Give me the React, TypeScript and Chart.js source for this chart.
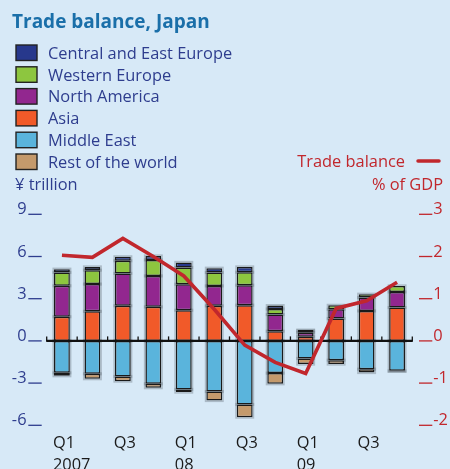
import React, { useEffect, useRef } from "react";
import { Chart, registerables } from "chart.js";

Chart.register(...registerables);

// ---- data ----
const quarters = [
  "2007 Q1", "2007 Q2", "2007 Q3", "2007 Q4",
  "2008 Q1", "2008 Q2", "2008 Q3", "2008 Q4",
  "2009 Q1", "2009 Q2", "2009 Q3", "2009 Q4",
];
const quarterLabels = ["Q1", "", "Q3", "", "Q1", "", "Q3", "", "Q1", "", "Q3", ""];
const yearLabels = ["2007", "", "", "", "08", "", "", "", "09", "", "", ""];

const centralEastEurope = [0.23, 0.23, 0.28, 0.28, 0.36, 0.31, 0.38, 0.24, 0.06, 0, 0, 0];
const westernEurope = [0.95, 0.99, 0.9, 1.14, 1.19, 0.95, 0.92, 0.4, 0.13, 0.28, 0.24, 0.43];
const northAmerica = [2.2, 1.94, 2.3, 2.2, 1.85, 1.42, 1.42, 1.18, 0.28, 0.66, 0.95, 1.11];
const asia = [1.72, 2.1, 2.5, 2.42, 2.18, 2.49, 2.54, 0.69, 0.3, 1.59, 2.13, 2.37];
const middleEast = [-2.27, -2.34, -2.53, -3.05, -3.45, -3.6, -4.52, -2.29, -1.25, -1.37, -2.01, -2.13];
const restOfWorld = [-0.21, -0.35, -0.33, -0.28, -0.19, -0.64, -0.9, -0.76, -0.4, -0.28, -0.24, -0.04];
const tradeBalance = [2.03, 1.98, 2.43, 2.0, 1.54, 0.75, -0.1, -0.51, -0.77, 0.77, 0.95, 1.39];

const leftTicks = [9, 6, 3, 0, -3, -6];
const rightTicks = [3, 2, 1, 0, -1, -2];

const seriesNames = [
  "Central and East Europe",
  "Western Europe",
  "North America",
  "Asia",
  "Middle East",
  "Rest of the world",
];
const seriesColors = ["#27388c", "#8dc63f", "#92278f", "#f15a29", "#5ab4dc", "#c49a6c"];
const seriesData = [centralEastEurope, westernEurope, northAmerica, asia, middleEast, restOfWorld];

// ---- styles ----
const BG = "#d7e9f7";
const BLUE_TEXT = "#2e3d8e";
const TITLE_COLOR = "#1a6fa9";
const RED = "#c1272d";
const FONT = "'Open Sans', 'Noto Sans', sans-serif";

export default function App() {
  const canvasRef = useRef<HTMLCanvasElement | null>(null);

  useEffect(() => {
    document.body.style.margin = "0";
    document.body.style.background = BG;
    const canvas = canvasRef.current;
    if (!canvas) return;

    const decorPlugin = {
      id: "decor",
      beforeDraw(chart: any) {
        const { ctx } = chart;
        ctx.save();
        ctx.fillStyle = BG;
        ctx.fillRect(0, 0, chart.width, chart.height);
        ctx.restore();
      },
      beforeDatasetsDraw(chart: any) {
        // soft grey halo behind the bars
        const { ctx } = chart;
        ctx.save();
        ctx.strokeStyle = "rgba(90,100,110,0.35)";
        ctx.lineWidth = 1.5;
        for (let d = 0; d < 6; d++) {
          const meta = chart.getDatasetMeta(d);
          meta.data.forEach((bar: any) => {
            const { x, y, base, width } = bar.getProps(["x", "y", "base", "width"], true);
            const top = Math.min(y, base);
            const h = Math.abs(base - y);
            if (h < 0.5) return;
            ctx.strokeRect(x - width / 2 - 0.8, top - 0.8, width + 1.6, h + 1.6);
          });
        }
        ctx.restore();
      },
      beforeDatasetDraw(chart: any, args: any) {
        // draw zero axis just before the line dataset
        if (args.index !== 6) return;
        const { ctx } = chart;
        const x = chart.scales.x;
        const y = chart.scales.y;
        const y0 = y.getPixelForValue(0);
        ctx.save();
        ctx.strokeStyle = "#111";
        ctx.lineWidth = 2.2;
        ctx.beginPath();
        ctx.moveTo(x.left - 0.5, y0);
        ctx.lineTo(x.right + 0.5, y0);
        ctx.stroke();
        ctx.lineWidth = 1.3;
        for (let i = 0; i <= quarters.length; i++) {
          const px = x.getPixelForValue(i - 0.5);
          ctx.beginPath();
          ctx.moveTo(px, y0 - 4.5);
          ctx.lineTo(px, y0);
          ctx.stroke();
        }
        ctx.restore();
      },
      afterDraw(chart: any) {
        const { ctx } = chart;
        const x = chart.scales.x;
        const yL = chart.scales.y;
        const yR = chart.scales.y1;
        ctx.save();
        // title
        ctx.textBaseline = "alphabetic";
        ctx.textAlign = "left";
        ctx.fillStyle = TITLE_COLOR;
        ctx.font = `bold 19px ${FONT}`;
        ctx.fillText("Trade balance, Japan", 12, 27.5);

        // legend
        ctx.font = `16.4px ${FONT}`;
        for (let i = 0; i < seriesNames.length; i++) {
          const by = 45 + i * 21.8;
          ctx.fillStyle = seriesColors[i];
          ctx.fillRect(16, by, 21, 15.5);
          ctx.strokeStyle = "#222";
          ctx.lineWidth = 1.4;
          ctx.strokeRect(16, by, 21, 15.5);
          ctx.fillStyle = BLUE_TEXT;
          ctx.fillText(seriesNames[i], 48, 59 + i * 21.7);
        }
        ctx.fillStyle = BLUE_TEXT;
        ctx.fillText("¥ trillion", 15, 190);

        // right legend
        ctx.fillStyle = RED;
        ctx.textAlign = "right";
        ctx.fillText("Trade balance", 405, 166.5);
        ctx.fillText("% of GDP", 443, 190);
        ctx.strokeStyle = RED;
        ctx.lineWidth = 3.5;
        ctx.lineCap = "round";
        ctx.beginPath();
        ctx.moveTo(418, 161);
        ctx.lineTo(439, 161);
        ctx.stroke();
        ctx.lineCap = "butt";

        // left axis labels
        ctx.font = `16.4px ${FONT}`;
        for (const v of leftTicks) {
          const py = yL.getPixelForValue(v);
          ctx.fillStyle = BLUE_TEXT;
          ctx.textAlign = "right";
          ctx.fillText(String(v), 26.5, py);
          ctx.strokeStyle = BLUE_TEXT;
          ctx.lineWidth = 1.3;
          ctx.beginPath();
          ctx.moveTo(28.3, py);
          ctx.lineTo(41.7, py);
          ctx.stroke();
        }
        // right axis labels
        for (const v of rightTicks) {
          const py = yR.getPixelForValue(v);
          ctx.fillStyle = RED;
          ctx.textAlign = "left";
          ctx.fillText(String(v), 433.3, py);
          ctx.strokeStyle = RED;
          ctx.lineWidth = 1.3;
          ctx.beginPath();
          ctx.moveTo(419, py);
          ctx.lineTo(432.3, py);
          ctx.stroke();
        }
        // x labels
        ctx.fillStyle = "#1a1a1a";
        ctx.textAlign = "left";
        for (let i = 0; i < quarters.length; i++) {
          const px = x.getPixelForValue(i) - 9;
          if (quarterLabels[i]) ctx.fillText(quarterLabels[i], px, 447.5);
          if (yearLabels[i]) ctx.fillText(yearLabels[i], px, 469.5);
        }
        ctx.restore();
      },
    };

    const barDatasets = seriesNames.map((name, i) => ({
      type: "bar" as const,
      label: name,
      data: seriesData[i],
      backgroundColor: seriesColors[i],
      borderColor: "#1a1a1a",
      borderWidth: 1.5,
      borderSkipped: false as const,
      yAxisID: "y",
      stack: "s",
      order: 1,
      barPercentage: 0.52,
      categoryPercentage: 1,
    }));

    // Stack order: positive stacks from Asia upward, negative from Middle East downward
    const orderedBars = [barDatasets[3], barDatasets[2], barDatasets[1], barDatasets[0], barDatasets[4], barDatasets[5]];

    const chart = new Chart(canvas, {
      type: "bar",
      data: {
        labels: quarters,
        datasets: [
          ...orderedBars,
          {
            type: "line" as const,
            label: "Trade balance",
            data: tradeBalance,
            borderColor: RED,
            backgroundColor: RED,
            borderWidth: 3.6,
            pointRadius: 0,
            tension: 0,
            yAxisID: "y1",
            order: 0,
          } as any,
        ],
      },
      options: {
        responsive: false,
        maintainAspectRatio: false,
        animation: false,
        layout: {
          padding: { left: 46.7, right: 37.7, top: 214.3, bottom: 43.7 },
        },
        plugins: {
          legend: { display: false },
          tooltip: { enabled: false },
          title: { display: false },
        },
        scales: {
          x: { display: false, stacked: true, offset: true },
          y: { display: false, stacked: true, min: -6, max: 9 },
          y1: { display: false, min: -2, max: 3, position: "right" },
        },
      },
      plugins: [decorPlugin],
    });

    return () => chart.destroy();
  }, []);

  return (
    <div style={{ width: 450, height: 469, background: BG }}>
      <canvas ref={canvasRef} width={450} height={469} style={{ display: "block" }} />
    </div>
  );
}
